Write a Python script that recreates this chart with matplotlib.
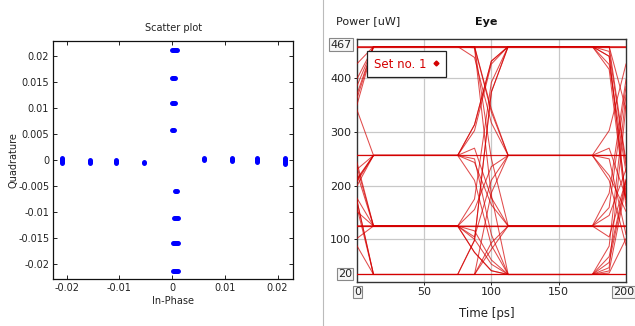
import matplotlib
matplotlib.use("Agg")
import matplotlib.pyplot as plt
from matplotlib.lines import Line2D

# ---------------- data: scatter (constellation) ----------------
# clusters lying on the In-Phase axis: I position and Q extent
h_inphase = [-0.0209, -0.0155, -0.0107, -0.0054, 0.0060, 0.0114, 0.0161, 0.0214]
h_quad_top = [0.0004, 0.0001, 0.0000, -0.0003, 0.0004, 0.0004, 0.0004, 0.0004]
h_quad_bottom = [-0.0005, -0.0005, -0.0005, -0.0005, 0.0000, -0.0002, -0.0004, -0.0007]
# clusters lying on the Quadrature axis: Q position and I extent
v_quad = [0.0212, 0.0158, 0.0110, 0.0057, -0.0059, -0.0112, -0.0160, -0.0214]
v_inph_left = [-0.0001, -0.0001, -0.0001, -0.0001, 0.0005, 0.0003, 0.0001, 0.0001]
v_inph_right = [0.0009, 0.0006, 0.0005, 0.0003, 0.0009, 0.0011, 0.0011, 0.0011]

sc_xticks = [-0.02, -0.01, 0, 0.01, 0.02]
sc_xticklabels = ["-0.02", "-0.01", "0", "0.01", "0.02"]
sc_yticks = [0.02, 0.015, 0.01, 0.005, 0, -0.005, -0.01, -0.015, -0.02]
sc_yticklabels = ["0.02", "0.015", "0.01", "0.005", "0", "-0.005", "-0.01", "-0.015", "-0.02"]

# ---------------- data: eye diagram ----------------
levels = [35, 125, 256, 458]             # uW
symbols = [2, 0, 3, 1, 2, 3, 0, 2, 1, 0, 0, 3, 3, 2, 0, 1, 3, 2, 2, 1, 1, 0, 2,
           3, 1, 0, 1, 2, 3, 3, 0, 0, 2, 1, 3, 0, 3, 2, 1, 1, 2, 0, 0, 3, 2,
           0, 2, 3, 0, 1, 1, 3, 1, 0, 3, 3, 1, 2, 0]
sample_times = [0, 12.5, 25, 37.5, 50, 62.5, 75, 87.5, 100, 112.5, 125,
                137.5, 150, 162.5, 175, 187.5, 200]
# fraction of the step completed at the two in-transition samples
fall_frac = [0.10, 0.70]
rise_frac = [0.15, 0.80]
# memory of the symbol before the transition (inter-symbol interference)
isi_frac = [0.12, 0.06]
eye_xticks = [50, 100, 150]
eye_yticks = [100, 200, 300, 400]

RED = "#d40000"


def trans(p, a, b, k):
    if a == b:
        return a
    fr = fall_frac if b < a else rise_frac
    v = a + fr[k] * (b - a) + isi_frac[k] * (a - p)
    return min(max(v, min(levels)), max(levels))


fig = plt.figure(figsize=(6.35, 3.26), dpi=100)

# ---------------- left: scatter plot ----------------
ax1 = fig.add_axes([0.084, 0.1433, 0.378, 0.731])
for x, q0, q1 in zip(h_inphase, h_quad_top, h_quad_bottom):
    ax1.plot([x, x], [q0, q1], color="#0000ff", lw=3.6, solid_capstyle="round")
for q, i0, i1 in zip(v_quad, v_inph_left, v_inph_right):
    ax1.plot([i0, i1], [q, q], color="#0000ff", lw=3.6, solid_capstyle="round")
ax1.set_xlim(-0.0225, 0.0230)
ax1.set_ylim(-0.0229, 0.0229)
ax1.set_xticks(sc_xticks)
ax1.set_xticklabels(sc_xticklabels)
ax1.set_yticks(sc_yticks)
ax1.set_yticklabels(sc_yticklabels)
ax1.tick_params(direction="in", top=True, right=True, length=3, width=0.7,
                labelsize=7, colors="#222222", pad=3)
for s in ax1.spines.values():
    s.set_linewidth(0.9)
    s.set_color("#111111")
ax1.set_title("Scatter plot", fontsize=7, color="#222222", pad=7)
ax1.set_xlabel("In-Phase", fontsize=7, color="#222222", labelpad=2)
ax1.set_ylabel("Quadrature", fontsize=7, color="#222222", labelpad=0)

# separator
fig.add_artist(Line2D([323.3 / 635, 323.3 / 635], [0, 1], color="#bbbbbb", lw=0.8))

# ---------------- right: eye diagram ----------------
ax2 = fig.add_axes([0.5617, 0.1365, 0.4241, 0.7439])
for k in range(0, len(symbols) - 4, 2):
    p, s0, s1, s2, s3 = [levels[j] for j in symbols[k:k + 5]]
    vals = ([trans(p, s0, s1, 1)] + [s1] * 6 +
            [trans(s0, s1, s2, 0), trans(s0, s1, s2, 1)] + [s2] * 6 +
            [trans(s1, s2, s3, 0), trans(s1, s2, s3, 1)])
    ax2.plot(sample_times, vals, color=RED, lw=0.75, alpha=0.7, zorder=3)
for lv in levels:
    ax2.axhline(lv, color=RED, lw=0.9, alpha=0.9, zorder=3)

ax2.set_xlim(0, 200)
ax2.set_ylim(22, 472)
ax2.set_xticks(eye_xticks)
ax2.set_yticks(eye_yticks)
ax2.grid(True, color="#c8c8c8", lw=0.9)
ax2.set_axisbelow(True)
ax2.tick_params(length=2, width=0.7, labelsize=8, colors="#222222", pad=2)
for s in ax2.spines.values():
    s.set_linewidth(1.0)
    s.set_color("#333333")

fig.text(336 / 635, 1 - 21.5 / 326, "Power [uW]", fontsize=8, color="#222222",
         ha="left", va="center")
fig.text(486 / 635, 1 - 22 / 326, "Eye", fontsize=8, fontweight="bold",
         color="#111111", ha="center", va="center")
fig.text(487 / 635, 1 - 313 / 326, "Time [ps]", fontsize=8.5, color="#222222",
         ha="center", va="center")

box = dict(boxstyle="square,pad=0.12", facecolor="#f6f6f6", edgecolor="#888888", lw=0.8)
fig.text(352 / 635, 1 - 44.5 / 326, "467", fontsize=8, color="#222222",
         ha="right", va="center", bbox=box)
fig.text(352 / 635, 1 - 274 / 326, "20", fontsize=8, color="#222222",
         ha="right", va="center", bbox=box)
fig.text(354 / 635, 1 - 292 / 326, "0", fontsize=8, color="#222222",
         ha="left", va="center", bbox=box)
fig.text(634 / 635, 1 - 292 / 326, "200", fontsize=8, color="#222222",
         ha="right", va="center", bbox=box)

handle = Line2D([], [], marker="D", color=RED, ls="none", markersize=2.5)
leg = ax2.legend([handle], ["Set no. 1"], loc="upper left", markerfirst=False,
                 bbox_to_anchor=(0.04, 0.95), fontsize=8.5, labelcolor=RED,
                 fancybox=False, edgecolor="#222222", framealpha=1,
                 handlelength=0.6, handletextpad=0.5, borderpad=0.55,
                 borderaxespad=0)
leg.get_frame().set_linewidth(0.9)
leg.set_zorder(5)

fig.savefig("out.png", dpi=100)
